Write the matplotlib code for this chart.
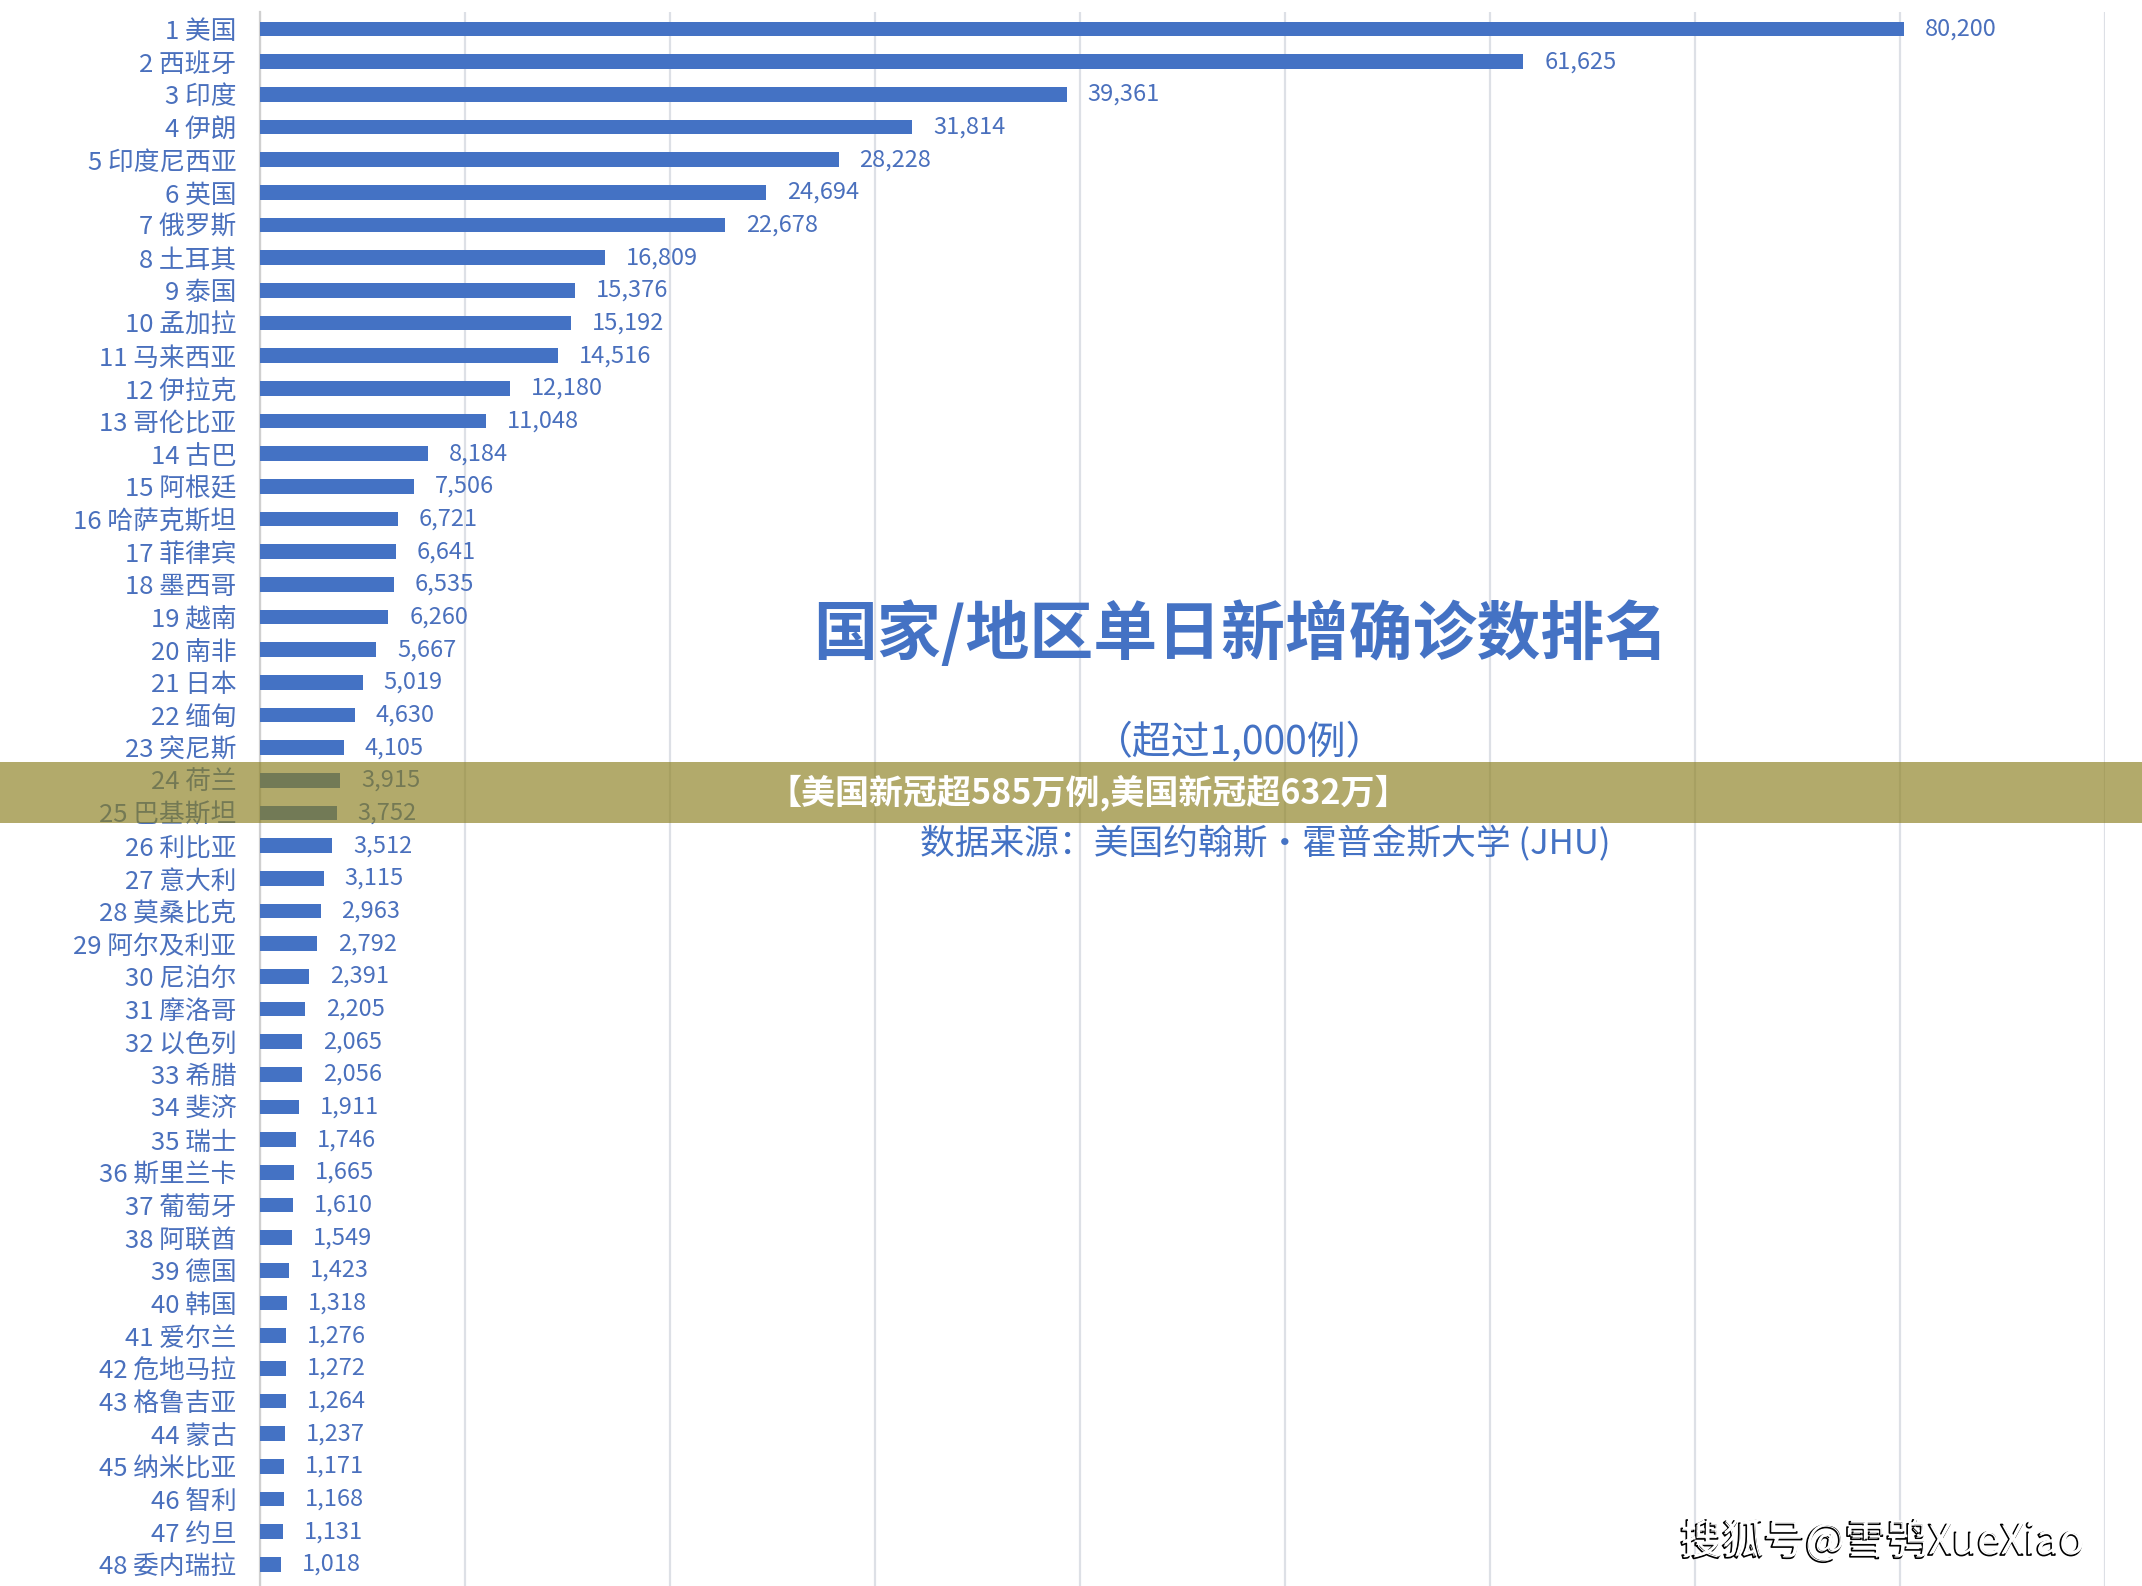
import numpy as np
import matplotlib.pyplot as plt
import matplotlib.patheffects as pe
from matplotlib.patches import Rectangle

plt.rcParams['font.family'] = ['Noto Sans CJK SC', 'DejaVu Sans']

# data
ranks = list(range(1, 49))
countries = ['美国', '西班牙', '印度', '伊朗', '印度尼西亚', '英国', '俄罗斯', '土耳其',
             '泰国', '孟加拉', '马来西亚', '伊拉克', '哥伦比亚', '古巴', '阿根廷', '哈萨克斯坦',
             '菲律宾', '墨西哥', '越南', '南非', '日本', '缅甸', '突尼斯', '荷兰',
             '巴基斯坦', '利比亚', '意大利', '莫桑比克', '阿尔及利亚', '尼泊尔', '摩洛哥', '以色列',
             '希腊', '斐济', '瑞士', '斯里兰卡', '葡萄牙', '阿联酋', '德国', '韩国',
             '爱尔兰', '危地马拉', '格鲁吉亚', '蒙古', '纳米比亚', '智利', '约旦', '委内瑞拉']
new_cases = [80200, 61625, 39361, 31814, 28228, 24694, 22678, 16809,
             15376, 15192, 14516, 12180, 11048, 8184, 7506, 6721,
             6641, 6535, 6260, 5667, 5019, 4630, 4105, 3915,
             3752, 3512, 3115, 2963, 2792, 2391, 2205, 2065,
             2056, 1911, 1746, 1665, 1610, 1549, 1423, 1318,
             1276, 1272, 1264, 1237, 1171, 1168, 1131, 1018]

labels = [f'{r} {c}' for r, c in zip(ranks, countries)]
blue = '#4472C4'
text_blue = '#4A70BD'

fig = plt.figure(figsize=(21.42, 15.86), dpi=100)
ax = fig.add_axes([260/2142, 0, (2105-260)/2142, 1-12/1586])

ypos = np.arange(len(labels))
ax.barh(ypos, new_cases, height=0.45, color=blue, zorder=3)
ax.set_ylim(47.66, -0.52)
ax.set_xlim(0, 90000)
ax.set_xticks(np.arange(0, 90001, 10000))
ax.set_xticklabels([])
ax.tick_params(axis='x', length=0)
ax.tick_params(axis='y', length=0, pad=17)
ax.set_yticks(ypos)
ax.set_yticklabels(labels, fontsize=18.5, color=text_blue)
ax.grid(axis='x', color='#DDE0E6', lw=1.6, zorder=0)
for s in ['top', 'right', 'bottom']:
    ax.spines[s].set_visible(False)
ax.spines['left'].set_color('#D0D0D0')
ax.spines['left'].set_linewidth(1.6)

for y, v in zip(ypos, new_cases):
    ax.annotate(f'{v:,}', (v, y), xytext=(15, 0), textcoords='offset points',
                ha='left', va='center', fontsize=17, color=text_blue)

fig.text(0.579, 0.5996, '国家/地区单日新增确诊数排名', ha='center', va='center',
         fontsize=46, color=blue, fontweight='bold')
fig.text(0.579, 0.532, '（超过1,000例）', ha='center', va='center',
         fontsize=28, color=blue, fontweight='light')
fig.text(0.5907, 0.4678, '数据来源：美国约翰斯·霍普金斯大学 (JHU)', ha='center', va='center',
         fontsize=25, color=blue, fontweight='light')

# olive banner across the figure
fig.add_artist(Rectangle((0, 1-823/1586), 1, 61/1586, transform=fig.transFigure,
                         facecolor=(139/255, 127/255, 30/255), alpha=0.66, lw=0, zorder=10))
fig.text(0.508, 0.5, '【美国新冠超585万例,美国新冠超632万】', ha='center', va='center',
         fontsize=24.5, color='white', fontweight='bold', zorder=11)

# watermark
fig.text(0.879, 0.0284, '搜狐号@雪鸮XueXiao', ha='center', va='center',
         fontsize=30, color='white', zorder=11, fontweight='light',
         path_effects=[pe.Stroke(linewidth=1.2, foreground='black', offset=(-1.2, -1.2)),
                       pe.Normal()])

fig.savefig('out.png', dpi=100)
